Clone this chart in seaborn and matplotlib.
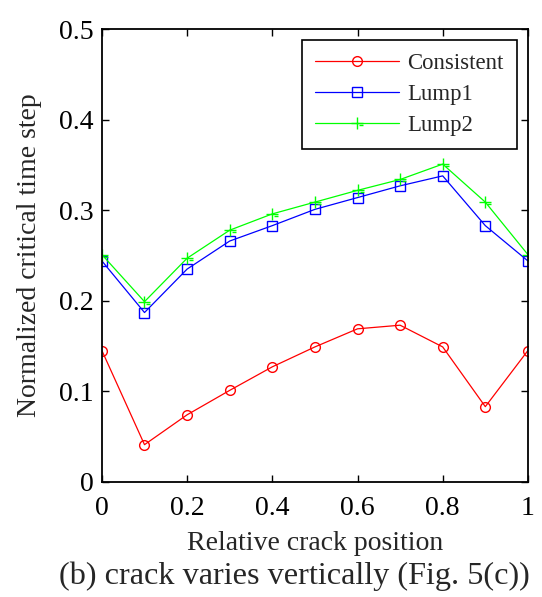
import numpy as np
import pandas as pd
import matplotlib
matplotlib.use("Agg")
import matplotlib.pyplot as plt
from matplotlib.path import Path
import seaborn as sns

positions = [0.0, 0.1, 0.2, 0.3, 0.4, 0.5, 0.6, 0.7, 0.8, 0.9, 1.0]
consistent = [0.145, 0.041, 0.074, 0.101, 0.127, 0.149, 0.169, 0.173, 0.149, 0.083, 0.145]
lump1 = [0.244, 0.187, 0.235, 0.266, 0.283, 0.301, 0.314, 0.327, 0.338, 0.283, 0.244]
lump2 = [0.251, 0.199, 0.247, 0.278, 0.296, 0.309, 0.322, 0.334, 0.351, 0.309, 0.251]
series_names = ["Consistent", "Lump1", "Lump2"]
xticks = [0, 0.2, 0.4, 0.6, 0.8, 1]
xticklabels = ["0", "0.2", "0.4", "0.6", "0.8", "1"]
yticks = [0, 0.1, 0.2, 0.3, 0.4, 0.5]
yticklabels = ["0", "0.1", "0.2", "0.3", "0.4", "0.5"]

sns.set_theme(style="white")
plt.rcParams["font.family"] = ["Liberation Serif", "DejaVu Serif"]

fig = plt.figure(figsize=(5.42, 5.97), dpi=100)
ax = fig.add_axes([0.188, 0.193, 0.786, 0.758])

# custom "+" with small dash marker (as in the original)
plus_dash = Path(
    [(-1, 0), (1, 0), (0, -1), (0, 1), (0.35, -0.35), (1.0, -0.35)],
    [Path.MOVETO, Path.LINETO, Path.MOVETO, Path.LINETO, Path.MOVETO, Path.LINETO],
)

df = pd.DataFrame({
    "x": positions * 3,
    "y": consistent + lump1 + lump2,
    "series": sum([[n] * len(positions) for n in series_names], []),
})

colors = {"Consistent": "#ff0000", "Lump1": "#0000ff", "Lump2": "#00ff00"}
markers = {"Consistent": "o", "Lump1": "s", "Lump2": plus_dash}
msize = {"Consistent": 7, "Lump1": 6.5, "Lump2": 8}

for name in series_names:
    sub = df[df["series"] == name]
    sns.lineplot(data=sub, x="x", y="y", ax=ax, color=colors[name], lw=0.9,
                 marker=markers[name], markersize=msize[name],
                 markerfacecolor="none", markeredgecolor=colors[name],
                 markeredgewidth=1.0, label=name, legend=False)

ax.set_xlim(0, 1)
ax.set_ylim(0, 0.5)
ax.set_xticks(xticks)
ax.set_xticklabels(xticklabels)
ax.set_yticks(yticks)
ax.set_yticklabels(yticklabels)
ax.tick_params(axis="both", which="both", direction="in", length=5, width=1,
               labelsize=20, top=True, right=True, bottom=True, left=True,
               colors="black")
ax.tick_params(axis="x", pad=10)
ax.tick_params(axis="y", pad=6)
for s in ax.spines.values():
    s.set_visible(True)
    s.set_color("black")
    s.set_linewidth(1.3)
ax.set_xlabel("Relative crack position", fontsize=20, labelpad=7.5)
ax.set_ylabel("Normalized critical time step", fontsize=20, labelpad=12)

leg = ax.legend(loc="upper right", fontsize=16.4, frameon=True, fancybox=False,
                edgecolor="black", framealpha=1, handlelength=3.7,
                borderpad=0.58, labelspacing=0.42, handletextpad=0.35,
                borderaxespad=0, bbox_to_anchor=(1 - 11 / 426, 1 - 11 / 453))
leg.get_frame().set_linewidth(1.2)

fig.text(0.544, 1 - 584 / 597, "(b) crack varies vertically (Fig. 5(c))",
         fontsize=23.2, ha="center", va="baseline")

fig.savefig("out.png", dpi=100, facecolor="white")
